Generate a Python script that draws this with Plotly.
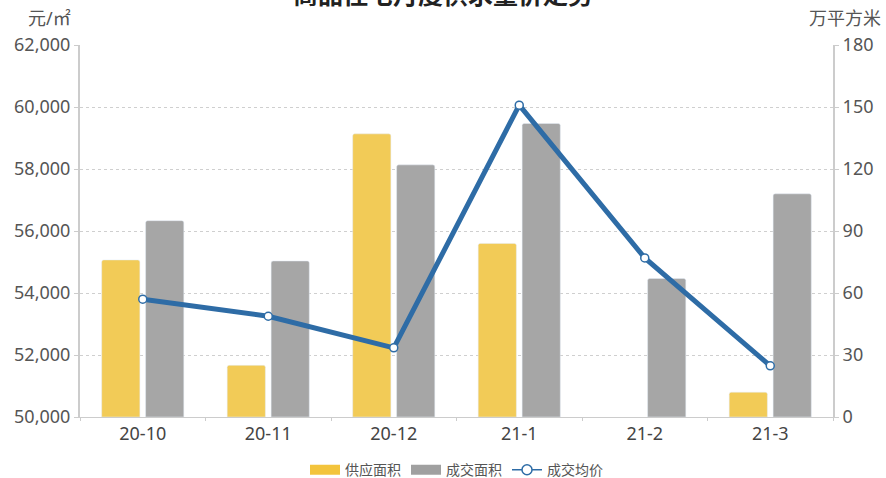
import plotly.graph_objects as go

categories = ["20-10", "20-11", "20-12", "21-1", "21-2", "21-3"]
supply_area = [76, 25, 137, 84, None, 12]
deal_area = [95, 75.5, 122, 142, 67, 108]
avg_price = [53800, 53250, 52230, 60060, 55130, 51650]

left_ticks = [50000, 52000, 54000, 56000, 58000, 60000, 62000]
right_ticks = [0, 30, 60, 90, 120, 150, 180]

font_family = "Noto Sans, Noto Sans CJK SC, sans-serif"
YELLOW = "#F2CB57"
GRAY = "#A6A6A6"
BLUE = "#2E6CA6"

fig = go.Figure()
fig.add_trace(go.Bar(x=categories, y=supply_area, name="供应面积", marker_color=YELLOW,
                     marker_cornerradius=2, yaxis="y", showlegend=False))
fig.add_trace(go.Bar(x=categories, y=deal_area, name="成交面积", marker_color=GRAY,
                     marker_cornerradius=2, yaxis="y", showlegend=False))
fig.add_trace(go.Scatter(x=categories, y=avg_price, name="成交均价", mode="lines+markers",
                         line=dict(color=BLUE, width=5),
                         marker=dict(size=8, color="white", line=dict(color=BLUE, width=1.5)),
                         yaxis="y2", showlegend=False))
# legend entries
fig.add_trace(go.Scatter(x=[None], y=[None], name="供应面积", mode="lines",
                         line=dict(color="#F3C43C", width=14), yaxis="y2"))
fig.add_trace(go.Scatter(x=[None], y=[None], name="成交面积", mode="lines",
                         line=dict(color="#A0A0A0", width=14), yaxis="y2"))
fig.add_trace(go.Scatter(x=[None], y=[None], name="成交均价", mode="lines+markers",
                         line=dict(color=BLUE, width=1.5),
                         marker=dict(size=10, color="white", line=dict(color=BLUE, width=1.5)),
                         yaxis="y2"))

fig.update_layout(
    width=886, height=478,
    margin=dict(l=80, r=53, t=45, b=61, autoexpand=False),
    plot_bgcolor="white", paper_bgcolor="white",
    font=dict(family=font_family, color="#555555", size=18),
    barmode="group", bargap=0.3, bargroupgap=0.13,
    showlegend=True,
    legend=dict(orientation="h", x=0.5, xanchor="center", y=-0.10, yanchor="top",
                font=dict(size=14, color="#555555"), traceorder="normal",
                itemwidth=30),
    xaxis=dict(type="category", showgrid=False, showline=True, linecolor="#CCCCCC", linewidth=1,
               ticks="outside", tickson="boundaries", tickcolor="#CCCCCC", ticklen=3,
               automargin=False, tickfont=dict(size=18, color="#444444")),
    yaxis2=dict(range=[50000, 62000], tickvals=left_ticks, tickformat=",",
                overlaying="y", side="left",
                showline=True, linecolor="#CCCCCC", linewidth=2,
                ticks="outside", tickcolor="#CCCCCC", ticklen=4, automargin=False,
                showgrid=False, zeroline=False, tickfont=dict(size=18, color="#555555")),
    yaxis=dict(range=[0, 180], tickvals=right_ticks, side="right",
               showline=True, linecolor="#CCCCCC", linewidth=2,
               ticks="outside", tickcolor="#CCCCCC", ticklen=4, automargin=False,
               showgrid=True, gridcolor="#CFCFCF", griddash="3px,3px", gridwidth=1,
               zeroline=False, tickfont=dict(size=18, color="#555555")),
    annotations=[
        dict(text="元/㎡", xref="paper", yref="paper", x=-0.04, y=1.0, xanchor="center",
             yanchor="bottom", yshift=13, showarrow=False, font=dict(size=18, color="#555555")),
        dict(text="万平方米", xref="paper", yref="paper", x=1.016, y=1.0, xanchor="center",
             yanchor="bottom", yshift=13, showarrow=False, font=dict(size=18, color="#555555")),
        dict(text="<b>商品住宅月度供求量价走势</b>", xref="paper", yref="paper", x=0.482, y=1.0,
             xanchor="center", yanchor="middle", yshift=51, showarrow=False,
             font=dict(size=25, color="#222222")),
    ],
)

fig.write_html("out.html", config={"displayModeBar": False},
               post_script="document.body.style.margin='0';document.body.style.overflow='hidden';")
